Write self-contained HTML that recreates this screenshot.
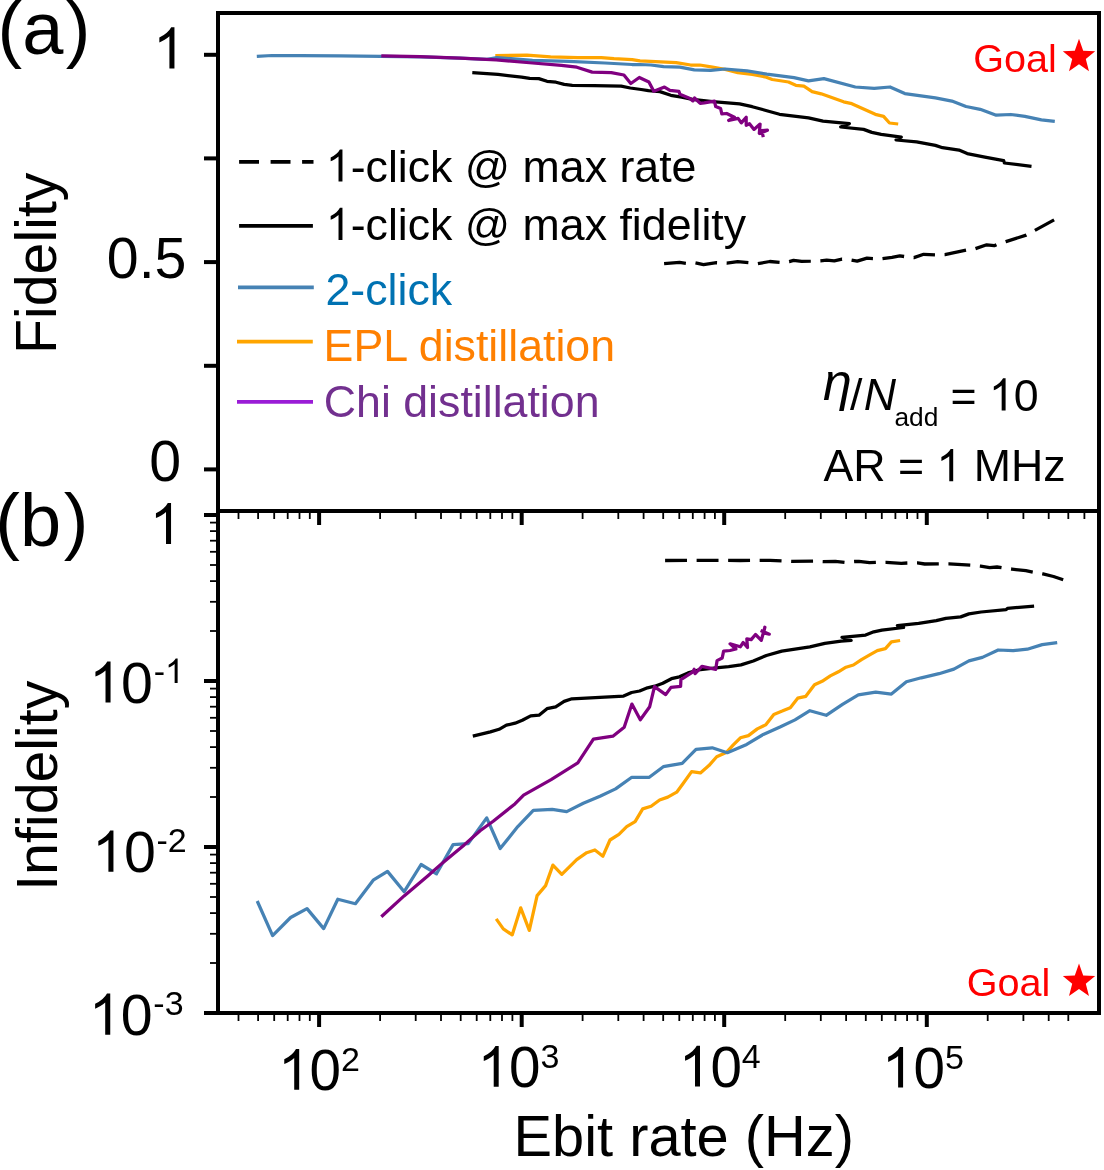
<!DOCTYPE html>
<html><head><meta charset="utf-8"><title>Ebit rate vs fidelity</title>
<style>html,body{margin:0;padding:0;background:#fff}body{width:1104px;height:1170px;overflow:hidden}</style></head>
<body>
<svg width="1104" height="1170" viewBox="0 0 1104 1170" style="display:block;font-family:'Liberation Sans',sans-serif;filter:opacity(1)">
<rect width="1104" height="1170" fill="#fff"/>
<polyline points="664.1,263.7 679.6,262.4 685.9,263.3 695.3,262.9 703.5,264.6 716.5,262.7 726.8,263.2 737.7,261.6 748.6,262.6 757.8,263.7 769.8,261.5 780.0,262.4 789.2,261.7 793.6,260.4 801.7,261.4 810.8,261.2 820.4,260.9 826.7,260.1 834.3,260.9 842.0,259.2 851.4,260.1 857.2,261.2 867.0,258.2 872.9,258.7 882.2,258.7 892.0,257.4 899.8,255.8 904.1,256.5 913.9,257.6 923.7,254.3 935.1,254.9 944.9,254.6 966.1,250.2 975.3,248.7 986.7,244.8 994.2,245.7 996.8,244.5 1005.9,241.6 1026.2,235.1 1034.9,230.4 1054.1,219.9" fill="none" stroke="#000" stroke-width="3.3" stroke-linejoin="round" stroke-dasharray="21.90 9.60"/>
<polyline points="472.3,72.6 498.0,74.4 521.6,77.1 529.7,78.4 538.8,78.6 547.0,81.3 556.0,82.2 564.2,84.4 572.3,85.3 594.0,85.7 621.2,86.2 630.3,88.0 641.2,89.5 648.4,90.7 659.9,91.6 670.8,95.3 681.7,97.1 692.5,99.4 712.5,101.6 739.6,103.8 752.3,106.7 766.8,110.7 779.5,114.3 794.0,116.1 808.5,117.9 823.0,121.2 849.4,123.7 840.7,127.0 863.6,129.4 871.8,132.4 881.2,134.3 901.3,137.1 896.1,140.0 916.6,141.9 935.4,145.4 942.5,147.7 959.0,150.1 967.2,153.6 984.9,157.2 1003.7,160.7 1004.4,163.0 1031.5,166.3" fill="none" stroke="#000" stroke-width="3.25" stroke-linejoin="round" />
<polyline points="495.3,55.6 527.0,55.2 550.6,56.8 577.8,57.6 601.3,57.6 614.0,58.7 632.1,59.6 640.0,60.8 676.2,62.6 690.7,65.0 699.8,65.0 712.5,67.2 723.3,69.0 737.8,72.6 752.3,74.4 765.0,76.8 772.2,79.5 788.5,82.0 795.8,85.3 803.9,86.2 812.1,91.6 821.2,93.8 843.6,101.8 851.8,103.7 875.3,114.3 883.6,116.4 889.5,123.0 898.2,124.0" fill="none" stroke="#ffa500" stroke-width="3.25" stroke-linejoin="round" />
<polyline points="256.8,56.3 272.0,55.5 300.0,55.7 340.0,55.9 381.3,56.4 420.0,56.9 460.0,58.1 487.0,59.3 497.0,57.6 532.5,60.3 568.7,61.4 604.9,63.0 632.1,64.5 640.0,64.5 650.9,65.0 663.6,66.6 679.9,67.2 694.3,69.9 710.7,70.4 725.1,69.0 746.9,70.8 766.8,74.1 794.0,77.7 808.5,80.8 823.9,78.6 855.3,87.0 874.2,88.4 890.0,87.0 904.8,93.6 935.4,97.8 951.9,101.1 966.0,106.5 980.2,109.3 996.2,115.2 1010.8,114.5 1024.9,116.4 1041.4,119.9 1054.8,121.4" fill="none" stroke="#4682b4" stroke-width="3.25" stroke-linejoin="round" />
<polyline points="381.3,55.8 420.0,56.6 460.0,58.1 496.2,59.9 532.5,63.0 561.4,65.4 576.8,67.2 592.2,72.1 611.3,72.6 623.9,75.0 630.8,83.5 639.3,77.5 648.9,82.0 653.8,91.3 664.5,87.1 669.9,90.4 678.9,91.3 679.9,94.3 690.0,98.4 692.9,100.9 694.5,98.0 700.2,103.3 704.3,102.9 714.4,101.1 715.7,106.6 720.6,108.6 721.8,113.9 726.7,113.5 734.4,117.2 728.7,120.5 738.1,118.4 741.3,122.9 746.2,117.2 746.2,125.3 749.5,123.7 754.0,129.4 760.1,124.1 759.3,133.5 767.4,130.2 761.7,130.6 763.3,137.2" fill="none" stroke="#800080" stroke-width="3.25" stroke-linejoin="round" />
<polyline points="665.1,560.5 700.0,560.4 740.0,560.5 770.0,560.3 781.7,560.9 791.2,561.4 813.2,561.2 823.0,561.7 835.3,561.3 844.8,562.3 854.4,561.5 858.9,561.3 869.5,562.7 876.3,562.4 886.2,562.3 901.3,563.3 907.8,563.0 917.5,562.9 924.7,564.0 939.4,563.8 949.1,563.8 970.6,565.2 980.6,566.2 989.7,567.7 997.0,567.0 1002.0,567.8 1011.9,569.1 1025.9,570.7 1033.5,572.2 1043.0,573.9 1053.5,576.5 1063.2,579.7" fill="none" stroke="#000" stroke-width="3.3" stroke-linejoin="round" stroke-dasharray="21.90 9.62"/>
<polyline points="472.8,736.1 490.4,731.9 499.1,729.3 506.4,725.2 515.1,723.2 522.3,720.3 530.7,715.9 539.0,715.2 547.0,708.7 555.7,706.8 564.1,701.4 571.9,698.8 600.0,697.3 623.6,696.1 631.6,692.5 639.6,691.0 647.5,687.8 654.8,686.2 662.8,683.3 671.4,678.7 679.4,676.8 688.1,672.9 698.3,670.0 715.7,667.8 728.7,666.7 741.0,664.9 753.3,661.0 766.4,655.5 781.8,651.1 795.0,649.2 809.9,646.8 824.8,643.3 841.1,641.1 851.2,640.5 842.0,637.3 865.6,635.1 873.8,631.8 881.9,630.2 903.6,627.5 897.4,625.6 918.6,623.4 936.3,620.7 945.8,618.3 960.7,616.9 968.9,613.9 981.1,612.0 1006.1,609.7 1007.5,608.3 1034.1,606.1" fill="none" stroke="#000" stroke-width="3.25" stroke-linejoin="round" />
<polyline points="496.2,918.9 503.3,928.9 512.2,934.9 520.7,907.8 529.3,930.4 537.1,895.6 545.6,885.6 552.9,865.1 561.8,874.4 576.7,859.6 586.7,852.7 594.9,850.0 602.9,856.2 610.0,840.0 618.9,834.4 626.7,826.7 635.1,821.6 642.7,808.9 651.1,806.2 659.6,800.0 667.8,797.1 676.7,792.2 683.3,783.3 691.6,771.6 700.4,772.9 708.9,765.6 716.7,756.7 726.7,752.2 733.3,744.9 740.4,737.8 748.4,735.6 757.3,728.9 765.6,724.9 773.8,714.4 782.2,711.1 790.3,707.7 797.7,698.2 805.8,696.3 814.5,684.8 822.1,681.3 830.3,675.9 838.4,671.8 846.0,667.2 853.4,665.0 861.5,659.6 869.7,654.9 877.3,650.6 885.4,648.7 891.4,641.9 900.1,640.5" fill="none" stroke="#ffa500" stroke-width="3.25" stroke-linejoin="round" />
<polyline points="257.2,901.0 272.6,935.6 290.6,917.5 307.0,908.6 323.7,928.6 337.8,899.2 355.4,903.7 373.2,880.2 387.5,871.4 404.2,891.7 421.1,864.5 436.5,873.8 453.1,844.6 468.2,843.6 486.7,817.9 500.2,848.5 517.8,826.6 533.3,810.4 552.2,809.3 566.7,811.6 583.3,803.3 600.0,796.3 615.6,788.9 631.8,777.3 649.3,777.3 663.3,766.7 682.2,763.3 696.0,749.3 712.2,747.8 727.3,752.7 746.7,744.4 763.3,734.4 780.0,727.0 795.0,719.9 809.9,710.7 826.2,715.3 842.5,704.4 858.3,694.9 875.7,692.2 891.4,694.1 906.4,681.8 921.3,677.8 939.0,673.7 953.9,669.1 968.9,660.9 982.4,657.4 998.2,650.0 1013.2,650.6 1027.3,649.2 1042.2,644.6 1057.2,642.7" fill="none" stroke="#4682b4" stroke-width="3.25" stroke-linejoin="round" />
<polyline points="381.3,916.7 404.1,895.9 428.0,875.7 442.5,862.9 464.2,844.9 480.1,830.7 493.2,821.3 514.9,803.9 523.6,795.2 551.1,779.6 577.8,762.9 593.4,739.2 612.9,736.2 624.2,727.2 631.9,704.1 640.3,719.7 649.7,706.7 654.5,686.7 665.7,694.6 671.0,687.4 680.6,686.4 680.9,679.7 692.5,672.2 694.2,669.3 695.1,673.6 701.9,666.4 715.7,669.3 717.1,660.6 722.2,658.0 723.6,651.2 730.0,650.5 735.9,649.0 730.1,643.9 740.3,646.8 743.2,642.5 747.5,647.5 746.8,638.8 751.2,639.6 755.5,634.5 761.3,640.3 764.9,627.2 763.5,633.0 769.3,634.2 760.6,630.4" fill="none" stroke="#800080" stroke-width="3.25" stroke-linejoin="round" />
<g stroke="#000" stroke-width="4" fill="none" stroke-linecap="butt">
<path d="M218,1015 V13 H1099 V1013 H204" stroke-linejoin="miter"/>
<path d="M218,511 H1099"/>
<path d="M204,469.4 H218"/>
<path d="M204,365.8 H218"/>
<path d="M204,262.1 H218"/>
<path d="M204,158.4 H218"/>
<path d="M204,54.8 H218"/>
<path d="M204,515.0 H218"/>
<path d="M204,681.0 H218"/>
<path d="M204,847.0 H218"/>
<path d="M319.1,511 V525"/>
<path d="M319.1,1013 V1027"/>
<path d="M521.7,511 V525"/>
<path d="M521.7,1013 V1027"/>
<path d="M724.2,511 V525"/>
<path d="M724.2,1013 V1027"/>
<path d="M926.8,511 V525"/>
<path d="M926.8,1013 V1027"/>
</g>
<g stroke="#000" stroke-width="1.8" fill="none">
<path d="M210,631.0 H218"/>
<path d="M210,601.8 H218"/>
<path d="M210,581.1 H218"/>
<path d="M210,565.0 H218"/>
<path d="M210,551.8 H218"/>
<path d="M210,540.7 H218"/>
<path d="M210,531.1 H218"/>
<path d="M210,522.6 H218"/>
<path d="M210,797.0 H218"/>
<path d="M210,767.8 H218"/>
<path d="M210,747.1 H218"/>
<path d="M210,731.0 H218"/>
<path d="M210,717.8 H218"/>
<path d="M210,706.7 H218"/>
<path d="M210,697.1 H218"/>
<path d="M210,688.6 H218"/>
<path d="M210,963.0 H218"/>
<path d="M210,933.8 H218"/>
<path d="M210,913.1 H218"/>
<path d="M210,897.0 H218"/>
<path d="M210,883.8 H218"/>
<path d="M210,872.7 H218"/>
<path d="M210,863.1 H218"/>
<path d="M210,854.6 H218"/>
<path d="M238.5,511 V519"/>
<path d="M238.5,1013 V1021"/>
<path d="M258.1,511 V519"/>
<path d="M258.1,1013 V1021"/>
<path d="M274.2,511 V519"/>
<path d="M274.2,1013 V1021"/>
<path d="M287.7,511 V519"/>
<path d="M287.7,1013 V1021"/>
<path d="M299.5,511 V519"/>
<path d="M299.5,1013 V1021"/>
<path d="M309.8,511 V519"/>
<path d="M309.8,1013 V1021"/>
<path d="M380.1,511 V519"/>
<path d="M380.1,1013 V1021"/>
<path d="M415.7,511 V519"/>
<path d="M415.7,1013 V1021"/>
<path d="M441.0,511 V519"/>
<path d="M441.0,1013 V1021"/>
<path d="M460.7,511 V519"/>
<path d="M460.7,1013 V1021"/>
<path d="M476.7,511 V519"/>
<path d="M476.7,1013 V1021"/>
<path d="M490.3,511 V519"/>
<path d="M490.3,1013 V1021"/>
<path d="M502.0,511 V519"/>
<path d="M502.0,1013 V1021"/>
<path d="M512.4,511 V519"/>
<path d="M512.4,1013 V1021"/>
<path d="M582.6,511 V519"/>
<path d="M582.6,1013 V1021"/>
<path d="M618.3,511 V519"/>
<path d="M618.3,1013 V1021"/>
<path d="M643.6,511 V519"/>
<path d="M643.6,1013 V1021"/>
<path d="M663.2,511 V519"/>
<path d="M663.2,1013 V1021"/>
<path d="M679.3,511 V519"/>
<path d="M679.3,1013 V1021"/>
<path d="M692.8,511 V519"/>
<path d="M692.8,1013 V1021"/>
<path d="M704.6,511 V519"/>
<path d="M704.6,1013 V1021"/>
<path d="M714.9,511 V519"/>
<path d="M714.9,1013 V1021"/>
<path d="M785.2,511 V519"/>
<path d="M785.2,1013 V1021"/>
<path d="M820.8,511 V519"/>
<path d="M820.8,1013 V1021"/>
<path d="M846.1,511 V519"/>
<path d="M846.1,1013 V1021"/>
<path d="M865.8,511 V519"/>
<path d="M865.8,1013 V1021"/>
<path d="M881.8,511 V519"/>
<path d="M881.8,1013 V1021"/>
<path d="M895.4,511 V519"/>
<path d="M895.4,1013 V1021"/>
<path d="M907.1,511 V519"/>
<path d="M907.1,1013 V1021"/>
<path d="M917.5,511 V519"/>
<path d="M917.5,1013 V1021"/>
<path d="M987.7,511 V519"/>
<path d="M987.7,1013 V1021"/>
<path d="M1023.4,511 V519"/>
<path d="M1023.4,1013 V1021"/>
<path d="M1048.7,511 V519"/>
<path d="M1048.7,1013 V1021"/>
<path d="M1068.3,511 V519"/>
<path d="M1068.3,1013 V1021"/>
<path d="M1084.4,511 V519"/>
<path d="M1097.9,511 V519"/>
</g>
<g stroke-width="3.8" fill="none">
<path d="M239.1,161.8 H313.5" stroke="#000" stroke-dasharray="19.9 11.6"/>
<path d="M239.1,225.9 H312.9" stroke="#000"/>
<path d="M238,287.3 H313.8" stroke="#4682b4"/>
<path d="M237,341.7 H312.8" stroke="#ffa500"/>
<path d="M237,401.9 H313" stroke="#9a1cd6"/>
</g>
<path d="M763 0H583V1147Q518 1085 412.5 1023T223 930V1104Q374 1175 487 1276T647 1472H763Z" fill="#000" transform="translate(325.80,181.60) scale(0.02183,-0.02183)"/><text x="350.66" y="181.6" font-size="44.7" fill="#000" >-click @ max rate</text>
<path d="M763 0H583V1147Q518 1085 412.5 1023T223 930V1104Q374 1175 487 1276T647 1472H763Z" fill="#000" transform="translate(325.80,240.00) scale(0.02183,-0.02183)"/><text x="350.66" y="240" font-size="44.7" fill="#000" >-click @ max fidelity</text>
<text x="325.5" y="304.6" font-size="44.7" fill="#0072b2" >2-click</text>
<text x="323.6" y="360.8" font-size="44.7" fill="#ff8000" >EPL distillation</text>
<text x="323.8" y="416.8" font-size="44.7" fill="#72308f" >Chi distillation</text>
<text font-size="44.7" fill="#000"><tspan x="823" y="400.2" font-size="52" font-style="italic">η</tspan><tspan x="850" y="410.3">/</tspan><tspan x="863.8" y="410.3" font-style="italic">N</tspan><tspan x="894.4" y="425.7" font-size="26.3">add</tspan><tspan x="950.42" y="410.5">=</tspan></text>
<path d="M763 0H583V1147Q518 1085 412.5 1023T223 930V1104Q374 1175 487 1276T647 1472H763Z" fill="#000" transform="translate(988.94,410.50) scale(0.02183,-0.02183)"/>
<text x="1013.8" y="410.5" font-size="44.7" fill="#000" >0</text>
<text x="823.5" y="481.2" font-size="44.7" fill="#000" >AR =</text>
<path d="M763 0H583V1147Q518 1085 412.5 1023T223 930V1104Q374 1175 487 1276T647 1472H763Z" fill="#000" transform="translate(936.54,481.20) scale(0.02183,-0.02183)"/>
<text x="973.82" y="481.2" font-size="44.7" fill="#000" >MHz</text>
<text x="973.2" y="72.2" font-size="39.6" fill="#ff0000" >Goal</text>
<polygon points="1079.00,38.76 1083.20,50.64 1095.17,51.19 1085.79,59.08 1088.99,71.30 1079.00,64.30 1069.01,71.30 1072.21,59.08 1062.83,51.19 1074.80,50.64" fill="#ff0000"/>
<text x="966.8" y="996.3" font-size="39.6" fill="#ff0000" >Goal</text>
<polygon points="1079.00,963.51 1083.20,975.39 1095.17,975.94 1085.79,983.83 1088.99,996.05 1079.00,989.05 1069.01,996.05 1072.21,983.83 1062.83,975.94 1074.80,975.39" fill="#ff0000"/>
<text font-size="74" y="54.4"><tspan x="-2.5">(a</tspan><tspan x="65.8">)</tspan></text>
<text font-size="74" y="545.7"><tspan x="-4.7">(b</tspan><tspan x="63.8">)</tspan></text>
<text transform="translate(56.0,354) rotate(-90)" font-size="57.3">Fidelity</text>
<text transform="translate(56.9,890.8) rotate(-90)" font-size="57.3">Infidelity</text>
<path d="M763 0H583V1147Q518 1085 412.5 1023T223 930V1104Q374 1175 487 1276T647 1472H763Z" fill="#000" transform="translate(153.10,68.40) scale(0.02798,-0.02798)"/>
<text x="106.8" y="278.4" font-size="57.3" fill="#000" >0.5</text>
<text x="149.2" y="481.3" font-size="57.3" fill="#000" >0</text>
<path d="M763 0H583V1147Q518 1085 412.5 1023T223 930V1104Q374 1175 487 1276T647 1472H763Z" fill="#000" transform="translate(149.70,544.10) scale(0.02798,-0.02798)"/>
<path d="M763 0H583V1147Q518 1085 412.5 1023T223 930V1104Q374 1175 487 1276T647 1472H763Z" fill="#000" transform="translate(89.20,702.60) scale(0.02798,-0.02798)"/><text x="121.07" y="702.6" font-size="57.3" fill="#000" >0</text><text x="153.64" y="683.0" font-size="34" fill="#000" >-</text><path d="M763 0H583V1147Q518 1085 412.5 1023T223 930V1104Q374 1175 487 1276T647 1472H763Z" fill="#000" transform="translate(164.96,683.00) scale(0.01660,-0.01660)"/>
<path d="M763 0H583V1147Q518 1085 412.5 1023T223 930V1104Q374 1175 487 1276T647 1472H763Z" fill="#000" transform="translate(92.10,871.80) scale(0.02798,-0.02798)"/><text x="123.97" y="871.8" font-size="57.3" fill="#000" >0</text><text x="156.54" y="852.2" font-size="34" fill="#000" >-</text><text x="167.86" y="852.2" font-size="34" fill="#000" >2</text>
<path d="M763 0H583V1147Q518 1085 412.5 1023T223 930V1104Q374 1175 487 1276T647 1472H763Z" fill="#000" transform="translate(88.90,1034.70) scale(0.02798,-0.02798)"/><text x="120.77" y="1034.7" font-size="57.3" fill="#000" >0</text><text x="153.34" y="1015.1" font-size="34" fill="#000" >-</text><text x="164.66" y="1015.1" font-size="34" fill="#000" >3</text>
<path d="M763 0H583V1147Q518 1085 412.5 1023T223 930V1104Q374 1175 487 1276T647 1472H763Z" fill="#000" transform="translate(278.10,1089.80) scale(0.02764,-0.02764)"/><text x="309.58" y="1089.8" font-size="56.6" fill="#000" >0</text><text x="341.06" y="1071.4" font-size="34" fill="#000" >2</text>
<path d="M763 0H583V1147Q518 1085 412.5 1023T223 930V1104Q374 1175 487 1276T647 1472H763Z" fill="#000" transform="translate(477.60,1086.70) scale(0.02764,-0.02764)"/><text x="509.08" y="1086.7" font-size="56.6" fill="#000" >0</text><text x="540.56" y="1068.3" font-size="34" fill="#000" >3</text>
<path d="M763 0H583V1147Q518 1085 412.5 1023T223 930V1104Q374 1175 487 1276T647 1472H763Z" fill="#000" transform="translate(678.90,1086.50) scale(0.02764,-0.02764)"/><text x="710.38" y="1086.5" font-size="56.6" fill="#000" >0</text><text x="741.86" y="1068.1" font-size="34" fill="#000" >4</text>
<path d="M763 0H583V1147Q518 1085 412.5 1023T223 930V1104Q374 1175 487 1276T647 1472H763Z" fill="#000" transform="translate(882.00,1087.60) scale(0.02764,-0.02764)"/><text x="913.48" y="1087.6" font-size="56.6" fill="#000" >0</text><text x="944.96" y="1069.2" font-size="34" fill="#000" >5</text>
<text x="513.5" y="1156.3" font-size="57.8" fill="#000" >Ebit rate (Hz)</text>
</svg>
</body></html>
